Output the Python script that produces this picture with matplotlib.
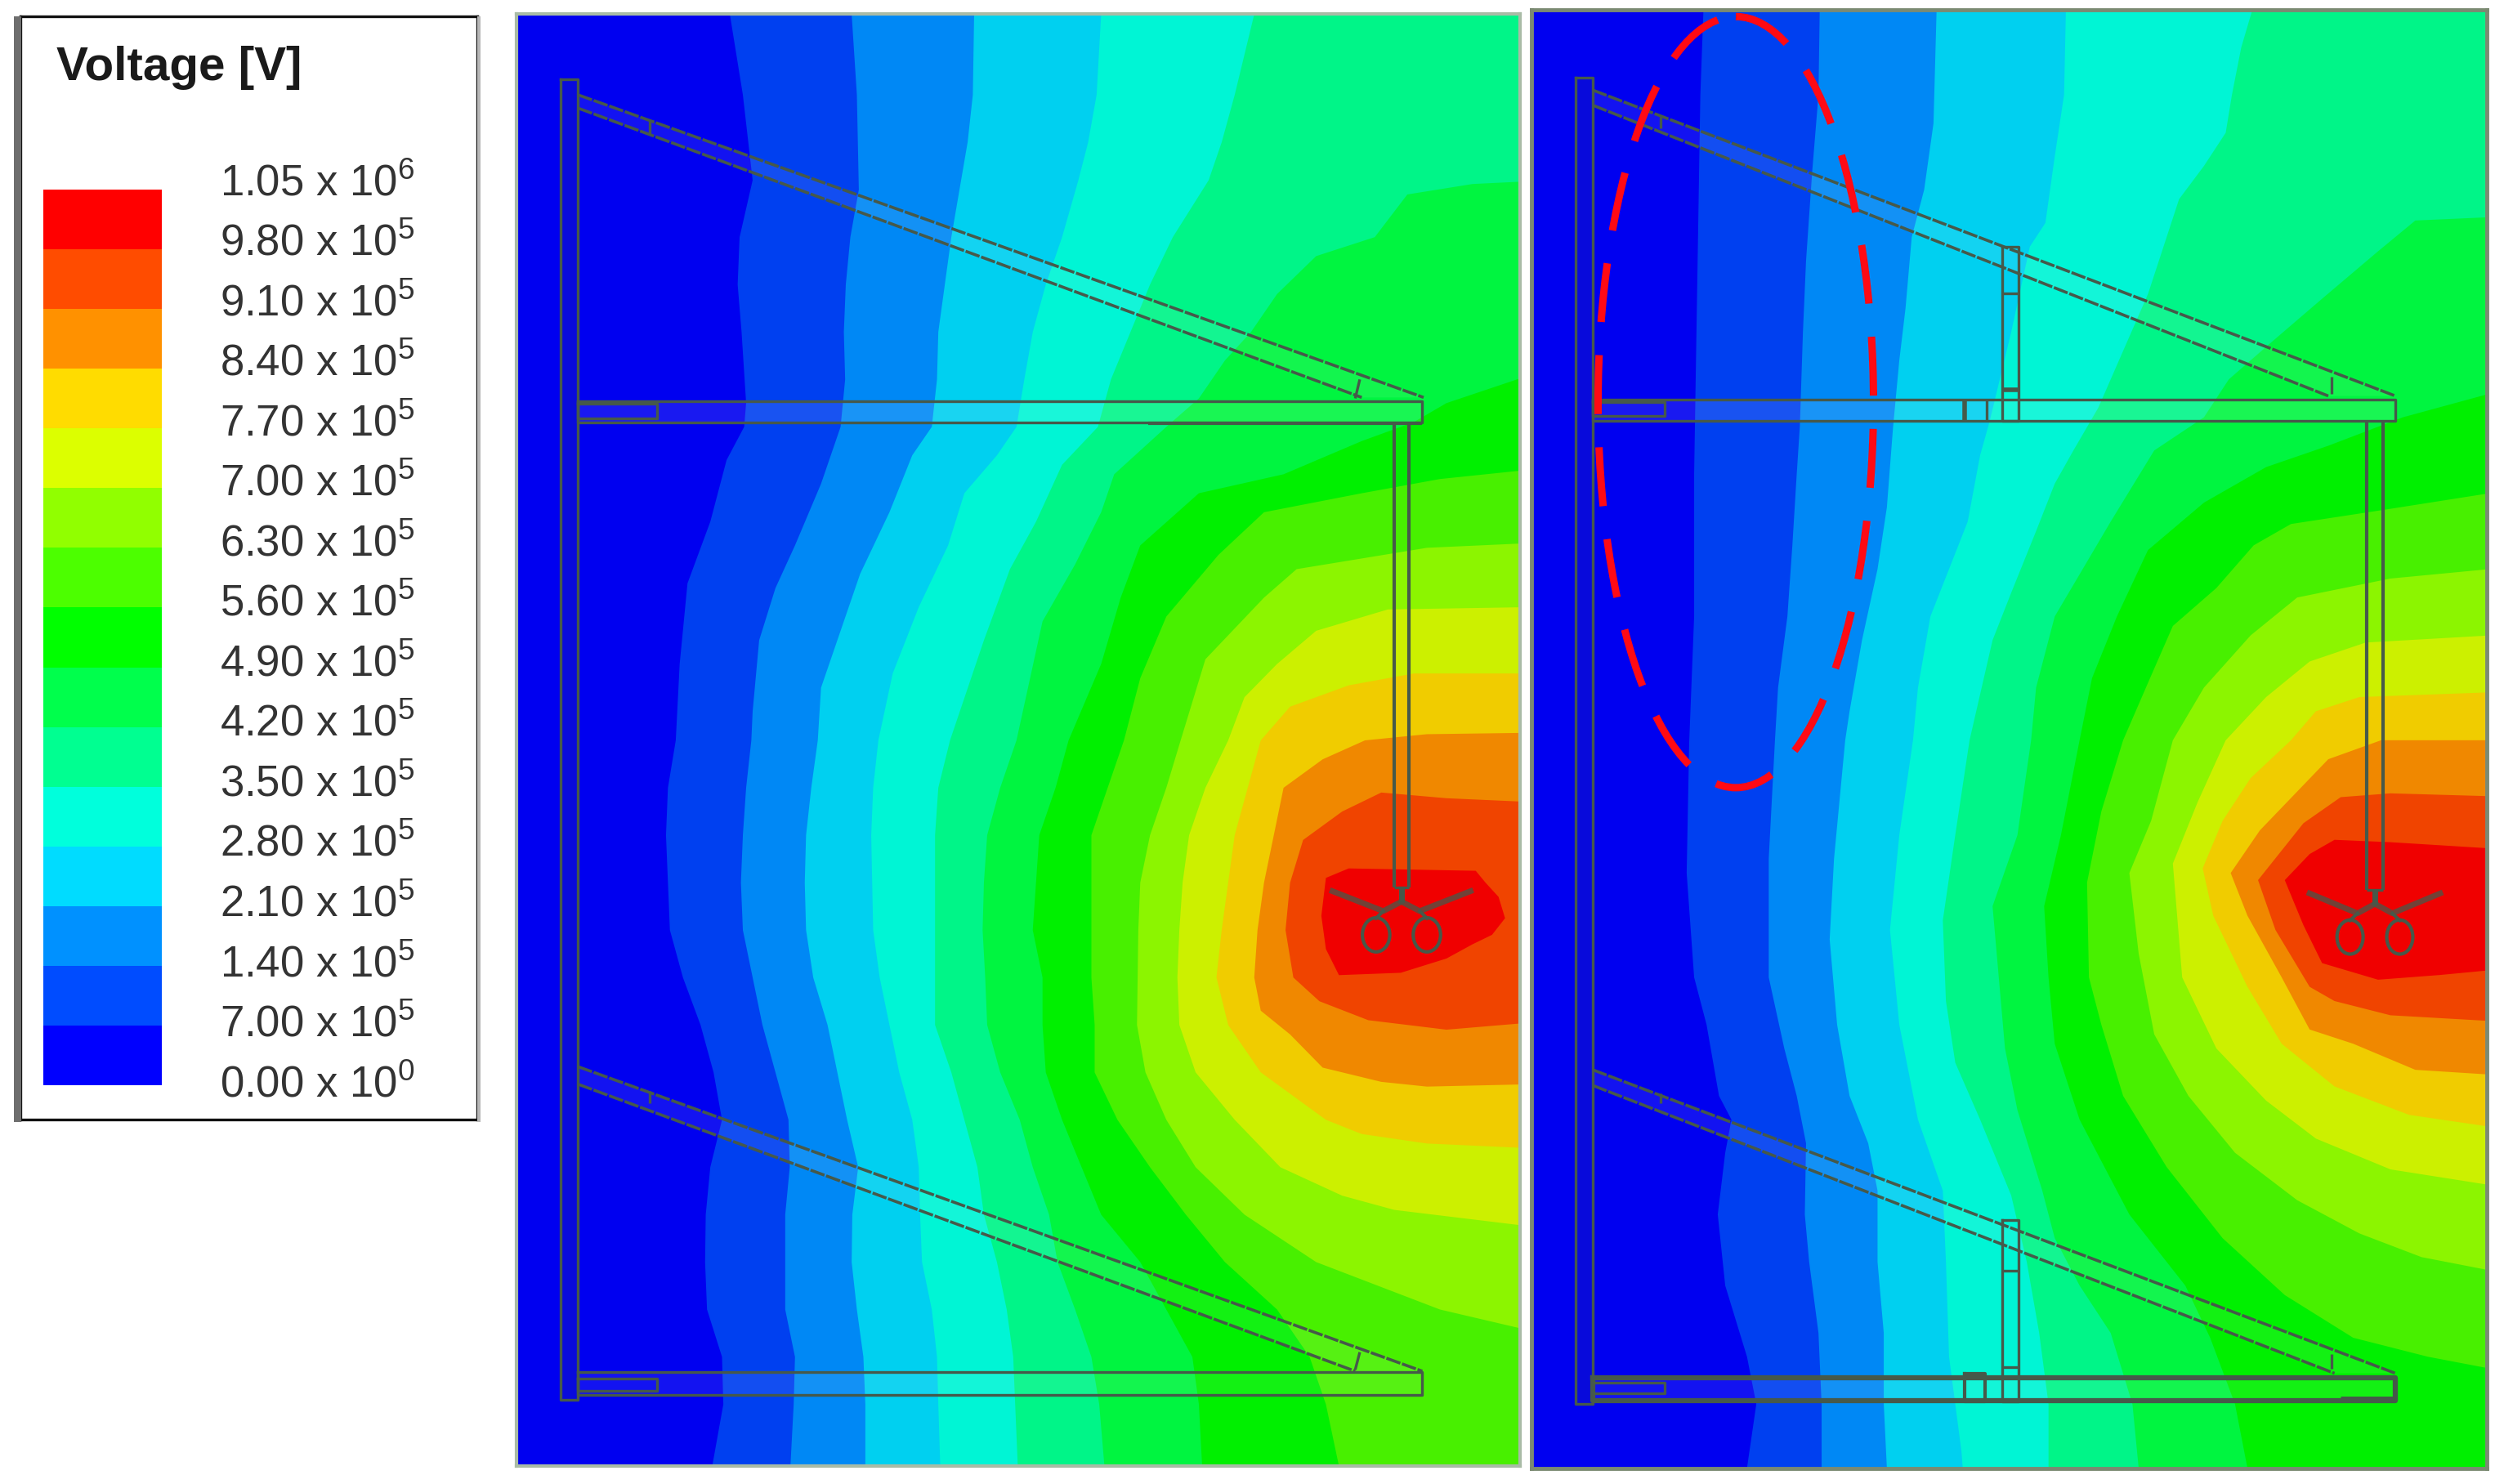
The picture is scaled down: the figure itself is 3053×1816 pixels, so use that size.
import numpy as np
import matplotlib
matplotlib.use("Agg")
import matplotlib.pyplot as plt
from matplotlib.patches import Ellipse, Rectangle

plt.rcParams['font.family'] = ['Liberation Sans', 'DejaVu Sans']
plt.rcParams['mathtext.default'] = 'regular'

W, H = 3053, 1816

legend_title = "Voltage [V]"
level_mantissa = ["1.05", "9.80", "9.10", "8.40", "7.70", "7.00", "6.30", "5.60",
                  "4.90", "4.20", "3.50", "2.80", "2.10", "1.40", "7.00", "0.00"]
level_exponent = [6, 5, 5, 5, 5, 5, 5, 5, 5, 5, 5, 5, 5, 5, 5, 0]

# legend colours, low to high, and the slightly darker ones of the field plots
legend_colors = ['#0000ff', '#004cff', '#0091ff', '#00dcff', '#00ffdc', '#00ff91', '#00ff4c', '#00ff00',
                 '#4cff00', '#91ff00', '#dcff00', '#ffdc00', '#ff9100', '#ff4c00', '#ff0000']
field_colors = ['#0000f0', '#0040f0', '#0088f5', '#00d0f0', '#00f5d5', '#00f588', '#00f540', '#00f000',
                '#48f000', '#8cf500', '#ccf000', '#f0cc00', '#f08800', '#f04400', '#f00000']

# contour lines as (y, x), left panel
p1_c1 = [(30, 330), (200, 350), (380, 365), (500, 345), (600, 342), (700, 348), (850, 355), (900, 352), (970, 325),
         (1100, 300), (1230, 265), (1400, 253), (1561, 247), (1661, 235), (1761, 232), (1961, 238), (2061, 258),
         (2161, 285), (2261, 305), (2361, 318), (2461, 300), (2561, 293), (2661, 292), (2761, 295), (2861, 318),
         (2961, 320), (3091, 303)]
p1_c2 = [(30, 517), (200, 525), (400, 528), (500, 515), (600, 508), (700, 505), (800, 507), (900, 500), (1020, 470),
         (1150, 430), (1240, 400), (1350, 375), (1500, 365), (1561, 363), (1661, 355), (1761, 350), (1861, 347),
         (1961, 350), (2061, 365), (2161, 380), (2261, 400), (2361, 420), (2461, 422), (2561, 415), (2761, 415),
         (2861, 430), (2961, 428), (3091, 423)]
p1_c3 = [(30, 705), (200, 703), (300, 695), (380, 685), (500, 670), (600, 660), (700, 650), (800, 648), (900, 640),
         (960, 610), (1080, 575), (1210, 530), (1350, 495), (1450, 470), (1561, 465), (1661, 455), (1761, 447),
         (1861, 445), (1961, 447), (2061, 458), (2161, 480), (2261, 495), (2361, 510), (2461, 527), (2561, 518),
         (2661, 517), (2761, 525), (2861, 535), (2961, 538), (3091, 538)]
p1_c4 = [(30, 900), (200, 893), (300, 880), (380, 865), (500, 840), (600, 815), (700, 795), (800, 782), (900, 770),
         (960, 740), (1040, 690), (1150, 665), (1280, 620), (1420, 580), (1561, 558), (1661, 550), (1761, 547),
         (1961, 550), (2061, 560), (2161, 575), (2261, 590), (2361, 610), (2461, 620), (2561, 622), (2661, 625),
         (2761, 640), (2861, 648), (2961, 650), (3091, 653)]
p1_c5 = [(30, 1135), (200, 1105), (300, 1085), (380, 1065), (500, 1010), (600, 975), (700, 945), (800, 915), (900, 895),
         (980, 840), (1100, 800), (1200, 760), (1350, 720), (1561, 668), (1661, 650), (1761, 645), (2161, 645),
         (2261, 670), (2361, 690), (2461, 710), (2561, 720), (2661, 740), (2761, 755), (2861, 765), (2961, 768),
         (3091, 772)]
p1_c6 = [(382, 1560), (388, 1470), (410, 1370), (500, 1320), (540, 1230), (620, 1170), (700, 1130), (760, 1090),
         (840, 1050), (900, 1000), (1000, 920), (1080, 900), (1190, 860), (1310, 810), (1561, 770), (1661, 745),
         (1761, 725), (1861, 720), (1961, 718), (2061, 722), (2161, 725), (2261, 745), (2361, 775), (2461, 795),
         (2561, 820), (2661, 833), (2761, 860), (2861, 885), (2961, 897), (3091, 905)]
p1_c7 = [(790, 1560), (850, 1430), (890, 1380), (930, 1300), (1000, 1180), (1040, 1050), (1150, 960), (1260, 930),
         (1400, 900), (1561, 850), (1661, 830), (1761, 805), (1961, 795), (2061, 810), (2161, 810), (2261, 815),
         (2361, 840), (2461, 870), (2561, 900), (2661, 960), (2761, 1000), (2861, 1040), (2961, 1050), (3091, 1055)]
p1_c8 = [(990, 1560), (1010, 1420), (1040, 1300), (1080, 1150), (1170, 1080), (1300, 1000), (1430, 960), (1561, 935),
         (1661, 910), (1761, 885), (2061, 885), (2161, 890), (2261, 890), (2361, 925), (2461, 975), (2561, 1030),
         (2661, 1090), (2761, 1170), (2861, 1220), (2961, 1245), (3091, 1265)]
p1_c9 = [(1145, 1560), (1155, 1400), (1200, 1200), (1260, 1150), (1390, 1060), (1561, 1022), (1661, 1000), (1761, 975),
         (1861, 960), (1961, 957), (2161, 955), (2261, 968), (2361, 1000), (2461, 1045), (2561, 1120), (2661, 1230),
         (2761, 1420), (2806, 1560)]
p1_c10 = [(1280, 1560), (1285, 1340), (1330, 1230), (1400, 1170), (1470, 1120), (1561, 1095), (1661, 1060), (1761, 1035),
          (1861, 1025), (1961, 1020), (2061, 1017), (2161, 1020), (2261, 1045), (2361, 1105), (2461, 1175), (2521, 1270),
          (2551, 1350), (2586, 1560)]
p1_c11 = [(1420, 1560), (1420, 1380), (1445, 1280), (1490, 1190), (1561, 1145), (1661, 1125), (1761, 1105), (1861, 1095),
          (1961, 1085), (2061, 1077), (2161, 1095), (2261, 1145), (2361, 1245), (2391, 1300), (2411, 1400), (2421, 1560)]
p1_c12 = [(1545, 1560), (1548, 1400), (1561, 1305), (1601, 1240), (1661, 1180), (1761, 1165), (1861, 1150), (1961, 1140),
          (2061, 1135), (2131, 1145), (2181, 1190), (2251, 1240), (2281, 1330), (2291, 1400), (2286, 1560)]
p1_c13 = [(1691, 1560), (1683, 1430), (1671, 1330), (1711, 1270), (1771, 1210), (1861, 1190), (1961, 1183), (2061, 1195),
          (2111, 1235), (2151, 1310), (2171, 1430), (2156, 1560)]
p1_c14 = [(1831, 1280), (1836, 1475), (1861, 1490), (1891, 1510), (1936, 1520), (1971, 1500), (1991, 1470), (2021, 1430),
          (2051, 1360), (2056, 1265), (2001, 1245), (1931, 1238), (1851, 1245), (1831, 1280)]

# right panel
p2_c1 = [(20, 295), (200, 290), (600, 285), (1000, 280), (1300, 280), (1568, 272), (1841, 268), (2061, 280), (2161, 300),
         (2311, 320), (2361, 340), (2431, 330), (2561, 318), (2711, 330), (2861, 365), (2961, 380), (3096, 365)]
p2_c2 = [(20, 482), (200, 480), (360, 470), (550, 460), (700, 455), (900, 450), (1000, 445), (1150, 438), (1300, 430),
         (1450, 415), (1561, 410), (1811, 400), (2061, 400), (2211, 425), (2311, 445), (2411, 460), (2561, 458),
         (2661, 465), (2811, 480), (2961, 485), (3096, 485)]
p2_c3 = [(20, 670), (260, 665), (400, 650), (500, 630), (650, 620), (760, 610), (900, 600), (1070, 590), (1200, 575),
         (1350, 550), (1500, 530), (1561, 523), (1811, 505), (1981, 498), (2161, 510), (2311, 530), (2411, 560),
         (2511, 575), (2661, 575), (2811, 585), (2961, 585), (3096, 590)]
p2_c4 = [(20, 878), (200, 875), (330, 860), (470, 845), (520, 820), (700, 790), (890, 755), (960, 740), (1100, 720),
         (1200, 690), (1300, 660), (1450, 640), (1561, 632), (1761, 610), (1961, 595), (2161, 610), (2361, 640),
         (2511, 680), (2661, 685), (2861, 690), (3061, 710), (3096, 712)]
p2_c5 = [(20, 1178), (100, 1160), (200, 1145), (280, 1135), (350, 1100), (420, 1060), (500, 1040), (620, 1010), (740, 970),
         (860, 930), (950, 890), (1020, 860), (1120, 830), (1250, 790), (1350, 760), (1561, 723), (1761, 700), (1941, 680),
         (2111, 685), (2241, 700), (2361, 740), (2521, 790), (2661, 815), (2811, 835), (2961, 850), (3096, 850)]
p2_c6 = [(458, 1560), (465, 1440), (530, 1380), (630, 1290), (720, 1210), (800, 1140), (880, 1100), (950, 1020),
         (1100, 950), (1300, 860), (1450, 830), (1561, 822), (1761, 800), (1911, 760), (2061, 770), (2211, 780),
         (2341, 800), (2511, 840), (2611, 860), (2711, 900), (2811, 950), (2961, 985), (3096, 995)]
p2_c7 = [(830, 1560), (880, 1420), (940, 1300), (985, 1200), (1060, 1100), (1160, 1010), (1300, 960), (1430, 920),
         (1561, 900), (1761, 870), (1911, 843), (2061, 850), (2201, 860), (2361, 900), (2561, 980), (2711, 1070),
         (2821, 1110), (2961, 1150), (3096, 1170)]
p2_c8 = [(1040, 1560), (1075, 1390), (1105, 1240), (1150, 1180), (1240, 1120), (1320, 1050), (1440, 1010), (1561, 970),
         (1711, 935), (1861, 912), (2061, 915), (2161, 935), (2311, 970), (2461, 1040), (2611, 1130), (2731, 1230),
         (2821, 1340), (2861, 1460), (2886, 1560)]
p2_c9 = [(1200, 1560), (1220, 1400), (1260, 1250), (1340, 1175), (1450, 1100), (1561, 1050), (1731, 1015), (1841, 980),
         (2011, 995), (2181, 1020), (2311, 1075), (2431, 1150), (2531, 1250), (2601, 1350), (2651, 1450), (2679, 1560)]
p2_c10 = [(1340, 1560), (1355, 1360), (1395, 1270), (1470, 1200), (1561, 1135), (1691, 1090), (1821, 1050), (2061, 1065),
          (2211, 1120), (2321, 1200), (2401, 1280), (2466, 1400), (2499, 1560)]
p2_c11 = [(1460, 1560), (1470, 1350), (1500, 1280), (1561, 1240), (1641, 1175), (1731, 1130), (1831, 1098), (1931, 1115),
          (2081, 1170), (2201, 1225), (2291, 1310), (2351, 1430), (2376, 1560)]
p2_c12 = [(1561, 1560), (1561, 1385), (1601, 1300), (1751, 1190), (1841, 1143), (1931, 1170), (2061, 1225), (2171, 1270),
          (2201, 1340), (2256, 1440), (2266, 1560)]
p2_c13 = [(1679, 1560), (1673, 1400), (1681, 1320), (1736, 1260), (1856, 1187), (1961, 1215), (2081, 1270), (2111, 1310),
          (2141, 1400), (2153, 1560)]
p2_c14 = [(1789, 1560), (1776, 1400), (1771, 1310), (1801, 1270), (1856, 1230), (1951, 1260), (2031, 1290), (2066, 1380),
          (2056, 1480), (2046, 1560)]

p1_contours = [p1_c1, p1_c2, p1_c3, p1_c4, p1_c5, p1_c6, p1_c7, p1_c8, p1_c9, p1_c10, p1_c11, p1_c12, p1_c13, p1_c14]
p2_contours = [p2_c1, p2_c2, p2_c3, p2_c4, p2_c5, p2_c6, p2_c7, p2_c8, p2_c9, p2_c10, p2_c11, p2_c12, p2_c13, p2_c14]

line_col = '#46594a'


def pixel_axes(x0, y0, x1, y1):
    # rectangle given in full size pixels, y from the top
    return fig.add_axes([x0 / W, 1 - y1 / H, (x1 - x0) / W, (y1 - y0) / H])


def draw_field(ax, contours, xlim, ylim):
    ax.set_facecolor(field_colors[0])
    for k, pts in enumerate(contours):
        ys = [p[0] for p in pts]
        xs = [p[1] for p in pts]
        if pts[0] != pts[-1]:
            # everything to the right of an open contour is above that level
            xs = xs + [2000, 2000]
            ys = ys + [ys[-1], ys[0]]
        ax.fill(xs, ys, color=field_colors[k + 1], lw=0)
    ax.set_xlim(xlim)
    ax.set_ylim(ylim[1], ylim[0])
    ax.set_xticks([])
    ax.set_yticks([])


def seg(ax, x0, y0, x1, y1, lw=2.4, alpha=1.0):
    ax.plot([x0, x1], [y0, y1], color=line_col, lw=lw, alpha=alpha, solid_capstyle='butt')


def box(ax, x0, y0, x1, y1, lw=2.4, tint=0.0, tint_col='white'):
    ax.plot([x0, x1, x1, x0, x0], [y0, y0, y1, y1, y0], color=line_col, lw=lw)
    if tint:
        ax.fill([x0, x1, x1, x0], [y0, y0, y1, y1], color=tint_col, alpha=tint, lw=0)


def draw_beam(ax, xa, xb, ya_top, ya_bot, yb_top, xc):
    ax.fill([xa, xb, xc, xa], [ya_top, yb_top, yb_top, ya_bot], color='white', alpha=0.08, lw=0)
    ax.plot([xa, xb], [ya_top, yb_top], color=line_col, lw=2.6, ls=(0, (5, 0.6)))
    ax.plot([xa, xc], [ya_bot, yb_top], color=line_col, lw=2.6, ls=(0, (5, 0.6)))


def draw_fork(ax, cx, cy, reach, loop_dx, loop_y):
    seg(ax, cx, cy, cx, cy + 30, lw=5)
    for s in [-1, 1]:
        ax.plot([cx, cx + s * 28, cx + s * reach], [cy + 30, cy + 50, cy + 8], color=line_col, lw=5, alpha=0.75)
        ax.plot([cx + s * 28, cx + s * loop_dx], [cy + 50, loop_y - 35], color=line_col, lw=3)
        ax.add_patch(Ellipse((cx + s * loop_dx, loop_y), 42, 72, fill=False, ec=line_col, lw=3))


fig = plt.figure(figsize=(W / 100, H / 100), dpi=100)
fig.patch.set_facecolor('white')

# legend
fig.add_artist(Rectangle((17 / W, 1 - 1373 / H), 9 / W, 1353 / H, transform=fig.transFigure, color='#6e6e6e', lw=0))
fig.add_artist(Rectangle((584 / W, 1 - 1373 / H), 4 / W, 1353 / H, transform=fig.transFigure, color='#b8b8b8', lw=0))
ax_leg = pixel_axes(25, 20, 584, 1370)
ax_leg.set_xticks([])
ax_leg.set_yticks([])
for sp in ax_leg.spines.values():
    sp.set_linewidth(2.4)
    sp.set_color('#111111')
ax_leg.text(69 / W, 1 - 83 / H, legend_title, transform=fig.transFigure, fontsize=42, fontweight='bold',
            color='#1a1a1a', va='center', ha='left')

ax_bar = pixel_axes(52.6, 232, 197.6, 1328)
bar_edges = np.arange(len(legend_colors) + 1)
for i, c in enumerate(legend_colors):
    ax_bar.barh(i + 0.5, 1, height=1, color=c, lw=0)
ax_bar.set_xlim(0, 1)
ax_bar.set_ylim(bar_edges[0], bar_edges[-1])
ax_bar.set_xticks([])
ax_bar.set_yticks([])
for sp in ax_bar.spines.values():
    sp.set_visible(False)
label_y = np.linspace(225, 1328, len(level_mantissa))
for m, e, y in zip(level_mantissa, level_exponent, label_y):
    fig.text(269 / W, 1 - y / H, f"{m} x $10^{{{e}}}$", fontsize=38, color='#333333', va='center', ha='left')

# left panel, coordinates follow the picture
ax1 = pixel_axes(632.4, 17.4, 1860, 1794)
draw_field(ax1, p1_contours, (3, 1543), (30, 3091))
for sp in ax1.spines.values():
    sp.set_linewidth(3)
    sp.set_color('#a9bba6')

box(ax1, 70, 168, 97, 2951, tint=0.12, tint_col='#46594a')
draw_beam(ax1, 97, 1395, 200, 228, 838, 1300)
seg(ax1, 207, 255, 207, 285)
seg(ax1, 1297, 800, 1290, 840)
box(ax1, 97, 846, 1393, 890, tint=0.1)
box(ax1, 97, 852, 218, 882)
seg(ax1, 972, 892, 1393, 892, lw=3)
seg(ax1, 1350, 890, 1350, 1871, lw=3)
seg(ax1, 1372, 890, 1372, 1871, lw=3)
seg(ax1, 1350, 1871, 1372, 1871)
draw_fork(ax1, 1361, 1871, 106, 39, 1971)
draw_beam(ax1, 97, 1393, 2249, 2286, 2891, 1290)
seg(ax1, 207, 2300, 207, 2326)
seg(ax1, 1297, 2851, 1290, 2888)
box(ax1, 97, 2893, 1393, 2941, tint=0.08)
box(ax1, 97, 2906, 218, 2933)

# right panel
ax2 = pixel_axes(1873.7, 11.6, 3043, 1796.6)
draw_field(ax2, p2_contours, (18, 1555), (20, 3096))
for sp in ax2.spines.values():
    sp.set_linewidth(3.5)
    sp.set_color('#7b8a72')

box(ax2, 90, 163, 117, 2961, tint=0.12, tint_col='#46594a')
draw_beam(ax2, 117, 1408, 190, 222, 835, 1300)
seg(ax2, 226, 245, 226, 270)
seg(ax2, 1305, 795, 1305, 830)
box(ax2, 117, 842, 1408, 888, tint=0.1)
box(ax2, 117, 848, 232, 878)
box(ax2, 775, 520, 802, 888)
seg(ax2, 775, 618, 802, 618)
seg(ax2, 775, 822, 802, 822, lw=4)
seg(ax2, 715, 842, 715, 888, lw=4)
seg(ax2, 750, 842, 750, 888)
seg(ax2, 1362, 888, 1362, 1876, lw=3)
seg(ax2, 1388, 888, 1388, 1876, lw=3)
seg(ax2, 1362, 1876, 1388, 1876)
draw_fork(ax2, 1375, 1876, 105, 40, 1976)
draw_beam(ax2, 117, 1408, 2256, 2289, 2896, 1310)
seg(ax2, 226, 2306, 226, 2326)
seg(ax2, 1305, 2855, 1305, 2886)
box(ax2, 117, 2906, 1408, 2953, lw=4.5, tint=0.08)
box(ax2, 117, 2916, 232, 2939)
box(ax2, 775, 2573, 802, 2956)
seg(ax2, 775, 2679, 802, 2679)
seg(ax2, 775, 2883, 802, 2883)
box(ax2, 715, 2896, 748, 2956, lw=3)
seg(ax2, 1320, 2951, 1408, 2951, lw=5)

ring = Ellipse((347, 848), 443, 1626, fill=False, ec='#ff0a14', lw=6.5, ls=(0, (8, 4.5)), zorder=5)
ax2.add_patch(ring)

fig.savefig('out.png', dpi=100)
